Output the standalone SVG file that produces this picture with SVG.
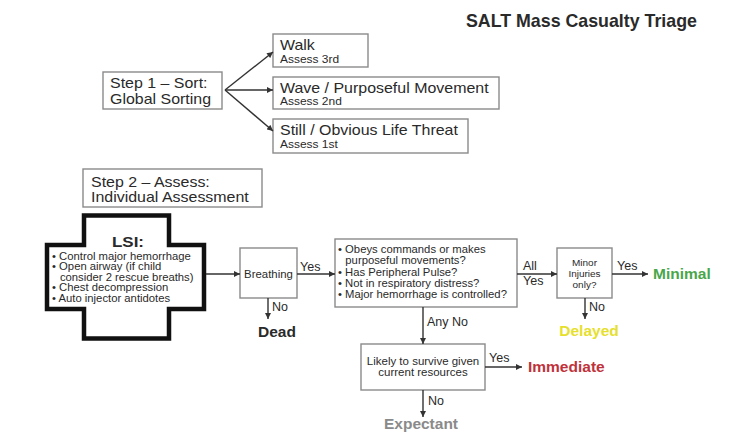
<svg xmlns="http://www.w3.org/2000/svg" width="753" height="444" viewBox="0 0 753 444">
<defs>
<marker id="ah" viewBox="0 0 10 10" refX="10" refY="5" markerWidth="7" markerHeight="6" markerUnits="userSpaceOnUse" orient="auto">
<path d="M0,0 L10,5 L0,10 Z" fill="#333"/>
</marker>
<style>
text{font-family:"Liberation Sans",Arial,sans-serif;fill:#2a2a2a}
.box{fill:#fff;stroke:#8a8a8a;stroke-width:1.4}
.step{font-size:14px}
.sub{font-size:10.5px}
.sm{font-size:10px}
.lbl{font-size:12.5px}
.out{font-size:15.5px;font-weight:bold}
.conn line{stroke:#333;stroke-width:1.4;fill:none;marker-end:url(#ah)}
</style>
</defs>
<rect width="753" height="444" fill="#fff"/>
<g id="title"><text x="466" y="27" style="font-size:17.8px;font-weight:bold">SALT Mass Casualty Triage</text></g>

<g id="step1">
<rect class="box" x="103" y="72" width="119" height="37"/>
<g transform="translate(110,0) scale(1.14,1)">
<text class="step" x="0" y="88">Step 1 – Sort:</text>
<text class="step" x="0" y="104">Global Sorting</text>
</g>
</g>
<g id="walk">
<rect class="box" x="273" y="34" width="95" height="33"/>
<g transform="translate(280,0) scale(1.14,1)">
<text class="step" x="0" y="50">Walk</text>
<text class="sub" x="0" y="63">Assess 3rd</text>
</g>
</g>
<g id="wave">
<rect class="box" x="273" y="77" width="226" height="32"/>
<g transform="translate(280,0) scale(1.14,1)">
<text class="step" x="0" y="93">Wave / Purposeful Movement</text>
<text class="sub" x="0" y="105">Assess 2nd</text>
</g>
</g>
<g id="still">
<rect class="box" x="273" y="119" width="195" height="34"/>
<g transform="translate(280,0) scale(1.14,1)">
<text class="step" x="0" y="135">Still / Obvious Life Threat</text>
<text class="sub" x="0" y="148">Assess 1st</text>
</g>
</g>

<g id="step2">
<rect class="box" x="83" y="169" width="179" height="38"/>
<g transform="translate(91,0) scale(1.14,1)">
<text class="step" x="0" y="187">Step 2 – Assess:</text>
<text class="step" x="0" y="202">Individual Assessment</text>
</g>
</g>

<g id="lsi">
<path d="M84,215.5 H169 V245 H204 V309 H169 V338.5 H84 V309 H47 V245 H84 Z" fill="#fff" stroke="#111" stroke-width="4.5" stroke-linejoin="miter"/>
<g transform="translate(128,0) scale(1.13,1)">
<text x="0" y="247" text-anchor="middle" style="font-size:15px;font-weight:bold">LSI:</text>
</g>
<g transform="translate(52,0) scale(1.13,1)" style="font-size:10px">
<text x="0" y="260">• Control major hemorrhage</text>
<text x="0" y="270.5">• Open airway (if child</text>
<text x="7" y="281">consider 2 rescue breaths)</text>
<text x="0" y="291.5">• Chest decompression</text>
<text x="0" y="302">• Auto injector antidotes</text>
</g>
</g>

<g id="breathing">
<rect class="box" x="240" y="248" width="57" height="50"/>
<g transform="translate(268.5,0) scale(1.14,1)">
<text class="sm" x="0" y="278" text-anchor="middle">Breathing</text>
</g>
</g>

<g id="questions">
<rect class="box" x="335" y="239" width="182" height="68"/>
<g class="sm" transform="translate(338,0) scale(1.13,1)">
<text x="0" y="253">• Obeys commands or makes</text>
<text x="6.5" y="264.3">purposeful movements?</text>
<text x="0" y="275.6">• Has Peripheral Pulse?</text>
<text x="0" y="286.9">• Not in respiratory distress?</text>
<text x="0" y="298.2">• Major hemorrhage is controlled?</text>
</g>
</g>

<g id="minor">
<rect class="box" x="557" y="248" width="55" height="50"/>
<g style="font-size:9px" text-anchor="middle" transform="translate(584.5,0) scale(1.11,1)">
<text x="0" y="266">Minor</text>
<text x="0" y="277">Injuries</text>
<text x="0" y="288">only?</text>
</g>
</g>

<g id="likely">
<rect class="box" x="361" y="344" width="124" height="46"/>
<g class="sm" text-anchor="middle" transform="translate(423,0) scale(1.15,1)">
<text x="0" y="365">Likely to survive given</text>
<text x="0" y="376.5">current resources</text>
</g>
</g>

<g id="dead"><text class="out" x="277" y="337" text-anchor="middle">Dead</text></g>
<g id="minimal"><text class="out" x="653" y="279" style="fill:#4aa64a">Minimal</text></g>
<g id="delayed"><text class="out" x="589" y="336" text-anchor="middle" style="fill:#e6df2e">Delayed</text></g>
<g id="immediate"><text class="out" x="528" y="372" style="fill:#c0323a">Immediate</text></g>
<g id="expectant"><text class="out" x="421" y="429" text-anchor="middle" style="fill:#8a8a8a">Expectant</text></g>

<g id="connectors" class="conn">
<line x1="225" y1="90" x2="273" y2="52"/>
<line x1="225" y1="90" x2="273" y2="90"/>
<line x1="225" y1="90" x2="273" y2="131"/>
<line x1="206" y1="274" x2="240" y2="274"/>
<line x1="297" y1="274" x2="335" y2="274"/>
<line x1="268" y1="298" x2="268" y2="319"/>
<line x1="517" y1="274" x2="557" y2="274"/>
<line x1="612" y1="274" x2="648" y2="274"/>
<line x1="585" y1="298" x2="585" y2="319"/>
<line x1="423" y1="307" x2="423" y2="344"/>
<line x1="485" y1="367" x2="522" y2="367"/>
<line x1="423" y1="390" x2="423" y2="417"/>
</g>
<g id="labels" class="lbl">
<text x="300" y="271">Yes</text>
<text x="272" y="311">No</text>
<text x="523" y="270">All</text>
<text x="523" y="285">Yes</text>
<text x="617" y="270">Yes</text>
<text x="589" y="311">No</text>
<text x="427" y="326">Any No</text>
<text x="489" y="362">Yes</text>
<text x="428" y="405">No</text>
</g>
</svg>
